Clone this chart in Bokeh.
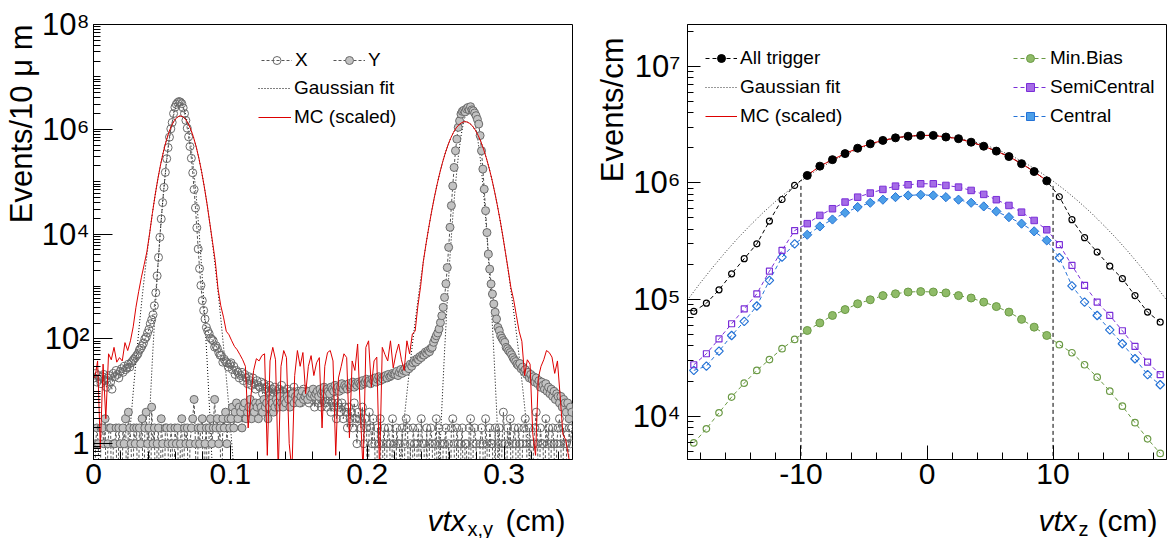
import numpy as np
from bokeh.plotting import figure
from bokeh.models import (ColumnDataSource, Range1d, FixedTicker, Legend,
                          LegendItem, CustomJSTickFormatter, Title)
from bokeh.layouts import row, column
from bokeh.core.properties import value
from bokeh.embed import file_html
from bokeh.resources import INLINE

FONT = "Liberation Sans"

# ======================= LEFT PANEL DATA (10 um bins) =======================
xy_bin_cm = 0.001
xy_nbins = 350

x_counts = [
    18, 22, 15, 20, 17, 14, 19, 21, 16, 12, 18, 20, 15, 11, 22, 19, 25, 21, 18, 24,
    27, 23, 30, 26, 28, 33, 29, 35, 38, 41,
    44, 48, 52, 61, 66, 74, 83, 100, 108, 130, 152, 195, 232, 290, 430, 760, 1600, 3600,
    8700, 19500, 40000, 78000, 151000, 275000, 447000, 708000, 1020000, 1350000,
    2000000, 2630000, 3000000, 3240000, 3390000, 3300000, 3090000, 2570000, 2000000,
    1480000, 1050000, 720000, 470000, 280000, 148000, 71000, 31600, 13200, 5200,
    2200, 1050, 540, 350, 240, 166, 141, 126, 104, 98, 92, 70, 74, 66, 55, 49, 48, 36, 41, 37,
    35, 29, 33, 35, 26, 30, 21, 25, 23, 18, 20, 23, 16, 21, 18, 14, 19, 16, 13, 18,
    14, 11, 16, 13, 12, 15, 9, 14, 11, 12, 10, 13, 9, 11,
    9, 12, 10, 8, 11, 9, 13, 10, 8, 9, 11, 7, 10, 9, 8, 12, 7, 9, 10, 8,
    6, 9, 11, 7, 8, 10, 6, 9, 7, 8, 5, 9, 7, 6, 8, 5, 7, 9, 6, 5,
    7, 8, 4, 6, 5, 7, 3, 6, 5, 4, 6, 3, 5, 4, 2, 5, 3, 4, 2, 6,
    3, 1, 4, 3, 2, 5, 1, 3, 2, 0, 4, 2, 1, 3,
    1, 0, 2, 1, 3, 0, 1, 2, 0, 1, 2, 1, 0, 3, 1, 0, 2, 1, 1, 0,
    2, 0, 1, 3, 2, 0, 1, 0, 2, 1, 0, 1, 2, 0, 3, 1, 1, 0, 2, 0,
    1, 2, 1, 0, 1, 3, 0, 2, 1, 0, 1, 1, 2, 0, 1, 0, 2, 3, 1, 0,
    2, 1, 0, 1, 2, 0, 1, 1, 0, 2, 3, 0, 1, 2, 1, 0, 0, 1, 2, 1,
    0, 3, 1, 0, 2, 1, 1, 0, 2, 0, 1, 2, 0, 1, 4, 1, 0, 2, 1, 3,
    0, 1, 2, 1, 0, 2, 1, 0, 1, 2, 3, 1, 0, 2, 1, 0, 1, 2, 4, 1,
    0, 2, 1, 1, 0, 3, 1, 2, 0, 1, 2, 1, 0, 1, 2, 3, 1, 0, 2, 1,
    1, 0, 2, 1, 2,
]

y_counts = [
    0, 1, 2, 1, 0, 2, 2, 1, 3, 0, 1, 2, 2, 0, 1, 1, 2, 0, 2, 1,
    0, 2, 1, 3, 0, 4, 2, 1, 0, 2, 1, 2, 0, 2, 1, 3, 0, 2, 4, 1,
    2, 0, 5, 1, 2, 0, 1, 2, 0, 3, 1, 0, 2, 2, 1, 0, 2, 1, 0, 2,
    1, 2, 0, 1, 3, 0, 2, 1, 2, 0, 1, 2, 3, 7, 1, 0, 2, 1, 2, 3,
    0, 1, 2, 0, 2, 3, 1, 2, 7, 2, 3, 1, 2, 0, 3, 2, 4, 1, 3, 2,
    3, 5, 2, 4, 6, 3, 5, 4, 2, 5, 6, 3, 4, 5, 7, 3, 5, 4, 6, 5,
    3, 6, 5, 4, 7, 5, 6, 3, 5, 7, 6, 4, 5, 7, 6, 5, 8, 6, 5, 7,
    6, 8, 7, 5, 7, 9, 6, 8, 7, 9, 6, 8, 10, 7, 8, 9, 7, 10, 8, 9,
    11, 8, 9, 10, 8, 11, 9, 10, 12, 9, 11, 10, 9, 12, 11, 10, 13, 11, 12, 10,
    12, 14, 11, 13, 12, 11, 14, 12, 13, 15, 12, 14, 13, 15, 14, 13, 16, 14, 15, 17,
    15, 16, 14, 17, 16, 18, 15, 17, 19, 16, 18, 17, 19, 20, 18, 21, 19, 20, 22, 21,
    21, 24, 20, 23, 26, 22, 25, 27, 24, 29, 27, 33, 30, 35, 39, 36, 42, 40, 46, 44,
    50, 49, 56, 53, 60, 57, 66, 69, 86, 100, 115, 130, 155, 205, 277, 400, 620, 1130, 2300,
    5600, 13500, 35000, 83000, 187000, 390000, 650000, 1090000, 1450000, 1950000,
    2200000, 2300000, 2150000, 2450000, 2600000, 2350000, 2700000, 2350000, 2250000,
    2050000, 1820000, 1550000, 1260000, 760000, 390000, 174000, 72000, 28000, 10700,
    4170, 2150,
    1120, 720, 465, 323, 240, 166, 144, 115, 103, 93, 86, 69, 65, 59, 55, 50, 44, 40, 37, 33,
    31, 34, 27, 29, 24, 26, 21, 23, 18, 21, 17, 19, 15, 18, 14, 16, 12, 15, 13, 11,
    14, 10, 12, 9, 11, 8, 10, 7, 9, 8, 6, 8, 5, 7, 6, 4, 6, 3, 5, 4,
]

# MC (scaled), sampled every 20 um starting at 0.001 cm
mc_xy_start = 0.001
mc_xy_step = 0.002
mc_xy = [
    18, 38, 0.8, 33, 3, 52, 40, 69, 36, 44, 38, 85, 60, 92, 170, 400, 800, 1500, 2600, 4600,
    10300, 24700, 54800, 112000, 211000, 365000, 584000, 861000, 1170000, 1460000,
    1690000, 1800000, 1760000, 1590000, 1320000, 1010000, 717000, 467000, 280000, 155000,
    79000, 37200, 16100, 7000, 3000, 900, 430, 260, 140, 120,
    92, 72, 62, 50, 40, 30, 2, 8, 25, 42, 38, 48, 52, 0.6, 38, 69, 40, 0.3, 30, 60,
    44, 1.0, 0.3, 20, 60, 30, 55, 9, 30, 48, 20, 35, 44, 2, 30, 55, 60, 38, 0.6, 18,
    30, 52, 44, 1.3, 38, 25, 80, 4, 0.3, 69, 92, 12, 38, 45, 0.3, 69, 50, 38, 92, 28,
    52, 80, 40, 25, 92, 52, 125, 140, 420, 1000,
    3000, 6540, 13500, 26600, 49400, 87200, 146000, 232000, 349000, 499000,
    676000, 869000, 1060000, 1220000, 1340000, 1400000, 1380000, 1290000, 1150000, 965000,
    771000, 584000, 420000, 286000, 185000, 114000, 66000, 36400, 19100, 9480,
    4460, 2100, 950, 560, 280, 140, 90, 20, 40, 33,
    1.5, 0.6, 18, 30, 40, 60, 55, 45, 22, 38, 8, 1.5, 1.2, 0.6, 0.3,
]

# Gaussian fits (curve samples every 20 um)
fit_step = 0.002
gfit_x_start = 0.039
gfit_x = [0.27, 3.6, 39, 338, 2330, 12700, 55700, 194000, 538000, 1190000, 2100000,
          2950000, 3300000, 2950000, 2100000, 1190000, 538000, 194000, 55700, 12700,
          2330, 338, 39, 3.6, 0.27]
gfit_y_start = 0.2525
gfit_y = [0.30, 4.7, 57, 532, 3820, 21100, 89700, 293000, 735000, 1420000, 2100000,
          2400000, 2100000, 1420000, 735000, 293000, 89700, 21100, 3820, 532, 57, 4.7, 0.30]
mcfit_l_start = 0.0235
mcfit_l = [0.146, 0.72, 3.3, 13.5, 52, 184, 604, 1820, 5040, 12900, 30400, 66000,
           132000, 244000, 415000, 649000, 937000, 1250000, 1530000, 1730000, 1800000,
           1730000, 1530000, 1250000, 937000, 649000, 415000, 244000, 132000, 66000,
           30400, 12900, 5040, 1820, 604, 184, 52, 13.5, 3.3, 0.72, 0.146]
mcfit_r_start = 0.2235
mcfit_r = [0.34, 1.19, 3.9, 12.2, 36, 101, 267, 675, 1620, 3670, 7890, 16100, 31200,
           57300, 99700, 165000, 258000, 384000, 541000, 723000, 917000, 1100000,
           1260000, 1360000, 1400000, 1360000, 1260000, 1100000, 917000, 723000, 541000,
           384000, 258000, 165000, 99700, 57300, 31200, 16100, 7890, 3670, 1620, 675,
           267, 101, 36, 12.2, 3.9, 1.19, 0.34]

# ======================= RIGHT PANEL DATA (1 cm bins) =======================
z_first, z_nbins = -18.5, 38
all_trigger = [7.9e4, 9.3e4, 1.21e5, 1.66e5, 2.24e5, 3.0e5, 4.7e5, 7.2e5, 9.5e5,
               1.157e6, 1.39e6, 1.58e6, 1.78e6, 1.98e6, 2.16e6, 2.31e6, 2.43e6, 2.51e6, 2.55e6,
               2.55e6, 2.47e6, 2.39e6, 2.23e6, 2.06e6, 1.87e6, 1.68e6, 1.46e6, 1.25e6, 1.04e6,
               7.6e5, 4.83e5, 3.39e5, 2.55e5, 1.93e5, 1.51e5, 1.08e5, 7.8e4, 6.4e4]
semicentral = [2.76e4, 3.43e4, 4.6e4, 6.2e4, 8.3e4, 1.12e5, 1.75e5, 2.64e5, 3.9e5,
               4.47e5, 5.26e5, 6.0e5, 6.84e5, 7.54e5, 8.17e5, 8.78e5, 9.37e5, 9.63e5, 9.82e5,
               9.82e5, 9.5e5, 9.19e5, 8.61e5, 7.96e5, 7.17e5, 6.4e5, 5.61e5, 4.76e5, 3.96e5,
               2.95e5, 1.96e5, 1.32e5, 9.5e4, 7.3e4, 5.4e4, 3.96e4, 2.91e4, 2.27e4]
central = [2.47e4, 2.69e4, 3.61e4, 4.92e4, 6.5e4, 8.8e4, 1.46e5, 2.31e5, 3.0e5,
           3.59e5, 4.23e5, 4.85e5, 5.54e5, 6.2e5, 6.75e5, 7.17e5, 7.54e5, 7.8e5, 7.9e5,
           7.8e5, 7.54e5, 7.17e5, 6.75e5, 6.28e5, 5.69e5, 5.08e5, 4.47e5, 3.84e5, 3.21e5,
           2.28e5, 1.31e5, 9.5e4, 7.3e4, 5.5e4, 4.18e4, 3.11e4, 2.27e4, 1.86e4]
minbias = [5.9e3, 7.8e3, 1.07e4, 1.46e4, 1.92e4, 2.47e4, 3.06e4, 3.79e4, 4.55e4,
           5.43e4, 6.3e4, 7.3e4, 8.2e4, 9.2e4, 9.95e4, 1.08e5, 1.12e5, 1.16e5, 1.17e5,
           1.16e5, 1.14e5, 1.08e5, 1.03e5, 9.5e4, 8.7e4, 7.8e4, 6.76e4, 5.8e4, 4.92e4,
           4.1e4, 3.5e4, 2.76e4, 2.16e4, 1.64e4, 1.22e4, 8.8e3, 6.4e3, 4.8e3]
mc_z_first = -9.5
mc_z = [1.16e6, 1.39e6, 1.58e6, 1.78e6, 1.98e6, 2.16e6, 2.31e6, 2.43e6, 2.51e6, 2.55e6,
        2.55e6, 2.47e6, 2.39e6, 2.23e6, 2.06e6, 1.87e6, 1.68e6, 1.46e6, 1.25e6, 1.04e6]
gfit_z_first = -19
gfit_z = [9.9e4, 1.38e5, 1.887e5, 2.54e5, 3.36e5, 4.35e5, 5.56e5, 6.96e5, 8.57e5, 1.036e6,
          1.23e6, 1.433e6, 1.64e6, 1.844e6, 2.036e6, 2.208e6, 2.352e6, 2.46e6, 2.527e6, 2.55e6,
          2.527e6, 2.46e6, 2.352e6, 2.208e6, 2.036e6, 1.844e6, 1.64e6, 1.433e6, 1.23e6,
          1.036e6, 8.57e5, 6.96e5, 5.56e5, 4.35e5, 3.36e5, 2.54e5, 1.887e5, 1.38e5, 9.9e4]
z_cut = [-10, 10]
z_cut_level = [9.6e5, 9.6e5]

# ======================= helpers =======================
FLOOR = 0.02  # empty bins drawn below the axis (log scale)
PLOT_H = 498
STRIP_H = 40

LOG_FMT = """
const e = Math.round(Math.log10(tick));
if (e == 0) { return '1'; }
const sup = {'0':'\u2070','1':'\u00b9','2':'\u00b2','3':'\u00b3','4':'\u2074',
             '5':'\u2075','6':'\u2076','7':'\u2077','8':'\u2078','9':'\u2079','-':'\u207b'};
return '10' + String(e).split('').map(c => sup[c]).join('');
"""


def floor0(v):
    return [c if c > 0 else FLOOR for c in v]


def samples(start, step, vals):
    return [start + step * i for i in range(len(vals))]


def style(p, xmaj, xmin, ymaj, ymin, ystand):
    p.xgrid.visible = False
    p.ygrid.visible = False
    p.outline_line_color = "black"
    p.outline_line_width = 1
    p.outline_line_alpha = 1
    p.background_fill_color = "white"
    p.border_fill_color = "white"
    for ax in p.axis:
        ax.axis_line_color = "black"
        ax.axis_line_width = 1
        ax.major_tick_line_color = "black"
        ax.minor_tick_line_color = "black"
        ax.major_tick_out = 0
        ax.minor_tick_out = 0
        ax.major_label_text_font = FONT
        ax.major_label_text_font_size = "30px"
        ax.major_label_text_color = "black"
    p.xaxis.major_tick_in = xmaj
    p.xaxis.minor_tick_in = xmin
    p.yaxis.major_tick_in = ymaj
    p.yaxis.minor_tick_in = ymin
    p.xaxis.major_label_standoff = 4
    p.yaxis.major_label_standoff = ystand
    p.yaxis.major_label_text_font_size = "31px"
    p.yaxis.formatter = CustomJSTickFormatter(code=LOG_FMT)


def add_leg(p, label, rends, xf, ycf, gw):
    p.add_layout(Legend(items=[LegendItem(label=label, renderers=rends)],
                        location=(xf, ycf - 10), orientation="vertical",
                        border_line_alpha=0, background_fill_alpha=0,
                        label_text_font=FONT, label_text_font_size="19px",
                        label_text_color="black", glyph_width=gw, glyph_height=20,
                        label_height=20, label_width=10, label_standoff=3,
                        padding=0, margin=0, spacing=0))


def ytitle(p, text, offset):
    p.add_layout(Title(text=text, align="right", offset=offset, standoff=0,
                       text_font=FONT, text_font_size="31px", text_font_style="normal",
                       text_color="black"), "left")


def title_strip(width, x_vtx, x_sub, x_cm_right, sub):
    s = figure(width=width, height=STRIP_H, x_range=Range1d(0, width),
               y_range=Range1d(0, STRIP_H), x_axis_type=None, y_axis_type=None,
               output_backend="svg", toolbar_location=None, min_border=0)
    s.outline_line_color = None
    s.background_fill_color = "white"
    s.border_fill_color = "white"
    common = dict(text_font=value(FONT), text_color="black", text_baseline="alphabetic")
    s.text(x=[x_vtx], y=[18], text=["vtx"], text_font_size="30px",
           text_font_style="italic", text_align="left", **common)
    s.text(x=[x_sub], y=[10], text=[sub], text_font_size="20px", text_align="left", **common)
    s.text(x=[x_cm_right], y=[18], text=["(cm)"], text_font_size="30px",
           text_align="right", **common)
    return s


# ======================= LEFT FIGURE =======================
p1 = figure(width=580, height=PLOT_H, x_range=Range1d(0, 0.35), y_range=Range1d(0.5, 1e8),
            y_axis_type="log", output_backend="svg", toolbar_location=None,
            min_border_left=93, min_border_right=8, min_border_top=24,
            min_border_bottom=PLOT_H - 459)
style(p1, 14, 8, 19, 7, 4)
p1.xaxis.ticker = FixedTicker(ticks=[0, 0.1, 0.2, 0.3],
                              minor_ticks=[round(0.02 * i, 2) for i in range(18)])
p1.xaxis.formatter = CustomJSTickFormatter(code="return tick == 0 ? '0' : tick.toFixed(1)")
maj_l = [0, 2, 4, 6, 8]
p1.yaxis.ticker = FixedTicker(ticks=[10.0 ** e for e in maj_l],
                              minor_ticks=[k * 10.0 ** e for e in range(-1, 8) for k in range(1, 10)
                                           if not (k == 1 and e in maj_l)])

bins = [xy_bin_cm * (i + 0.5) for i in range(xy_nbins)]
sx = ColumnDataSource(dict(x=bins, y=floor0(x_counts)))
sy = ColumnDataSource(dict(x=bins, y=floor0(y_counts)))

fit_kw = dict(line_color="black", line_width=1, line_dash="1 2")
f1 = p1.line(samples(gfit_x_start, fit_step, gfit_x), gfit_x, **fit_kw)
p1.line(samples(gfit_y_start, fit_step, gfit_y), gfit_y, **fit_kw)
p1.line(samples(mcfit_l_start, fit_step, mcfit_l), mcfit_l, **fit_kw)
p1.line(samples(mcfit_r_start, fit_step, mcfit_r), mcfit_r, **fit_kw)

lx = p1.line("x", "y", source=sx, line_color="#555555", line_width=1, line_dash="3 2")
ly = p1.line("x", "y", source=sy, line_color="#555555", line_width=1, line_dash="3 2")
mx = p1.scatter("x", "y", source=sx, marker="circle", size=8, fill_alpha=0,
                line_color="#6a6a6a", line_width=1)
my = p1.scatter("x", "y", source=sy, marker="circle", size=8, fill_color="#c2c2c2",
                line_color="#6a6a6a", line_width=1)
mc1 = p1.line(samples(mc_xy_start, mc_xy_step, mc_xy), mc_xy, line_color="#dd0000", line_width=1)

ytitle(p1, "Events/10 \u03bc m", 0)
add_leg(p1, "X", [lx, mx], 168, 398, 31)
add_leg(p1, "Y", [ly, my], 240, 398, 32)
add_leg(p1, "Gaussian fit", [f1], 165, 370, 33)
add_leg(p1, "MC (scaled)", [mc1], 165, 341, 33)

# ======================= RIGHT FIGURE =======================
p2 = figure(width=596, height=PLOT_H, x_range=Range1d(-19, 19), y_range=Range1d(4256, 2.275e7),
            y_axis_type="log", output_backend="svg", toolbar_location=None,
            min_border_left=107, min_border_right=10, min_border_top=24,
            min_border_bottom=PLOT_H - 459)
style(p2, 14, 7, 13, 6, 7)
p2.xaxis.ticker = FixedTicker(ticks=[-10, 0, 10], minor_ticks=list(range(-18, 19, 2)))
p2.xaxis.formatter = CustomJSTickFormatter(code="return tick.toFixed(0)")
maj_r = [4, 5, 6, 7]
p2.yaxis.ticker = FixedTicker(ticks=[10.0 ** e for e in maj_r],
                              minor_ticks=[k * 10.0 ** e for e in range(3, 8) for k in range(2, 10)])

zc = [z_first + i for i in range(z_nbins)]
inside = [abs(v) < 10 for v in zc]

gz = p2.line(samples(gfit_z_first, 1, gfit_z), gfit_z, line_color="#333333", line_width=1,
             line_dash="1 2")
p2.segment(x0=z_cut, y0=[1000, 1000], x1=z_cut, y1=z_cut_level, line_color="black",
           line_width=1, line_dash="4 3")


def series(vals, color, fill, marker, sf, so, angle=0.0, draw_markers=True):
    ln = p2.line(zc, vals, line_color=color, line_width=1, line_dash="4 3")
    zi = [zc[i] for i in range(z_nbins) if inside[i]]
    vi = [vals[i] for i in range(z_nbins) if inside[i]]
    zo = [zc[i] for i in range(z_nbins) if not inside[i]]
    vo = [vals[i] for i in range(z_nbins) if not inside[i]]
    p2.scatter(zo, vo, marker=marker, size=so, fill_alpha=0, line_color=color,
               line_width=1.2, angle=angle)
    si_r = None
    if draw_markers:
        si_r = p2.scatter(zi, vi, marker=marker, size=sf, fill_color=fill, line_color=color,
                          line_width=1, angle=angle)
    return ln, si_r, (zi, vi)


l_mb, s_mb, _ = series(minbias, "#6b9a45", "#8fbb68", "circle", 8, 6.5)
l_ce, s_ce, _ = series(central, "#2472d6", "#4d9fe8", "square", 6.5, 6, angle=np.pi / 4)
l_se, s_se, _ = series(semicentral, "#7a2ed8", "#a56ce6", "square", 6.5, 6)
l_at, _, (zi_at, vi_at) = series(all_trigger, "black", "black", "circle", 8, 6,
                                  draw_markers=False)
mc2 = p2.line(samples(mc_z_first, 1, mc_z), mc_z, line_color="#dd0000", line_width=1)
s_at = p2.scatter(zi_at, vi_at, marker="circle", size=8, fill_color="black",
                  line_color="black")

ytitle(p2, "Events/cm", 13)
add_leg(p2, "All trigger", [l_at, s_at], 18, 400, 32)
add_leg(p2, "Gaussian fit", [gz], 18, 371, 32)
add_leg(p2, "MC (scaled)", [mc2], 18, 342, 32)
add_leg(p2, "Min.Bias", [l_mb, s_mb], 326, 400, 34)
add_leg(p2, "SemiCentral", [l_se, s_se], 326, 371, 34)
add_leg(p2, "Central", [l_ce, s_ce], 326, 342, 34)

s1 = title_strip(580, 427, 467, 565, "x,y")
s2 = title_strip(596, 458, 498, 577, "z")

layout = column(row(p1, p2), row(s1, s2))
open("out.html", "w").write(file_html(layout, INLINE))
